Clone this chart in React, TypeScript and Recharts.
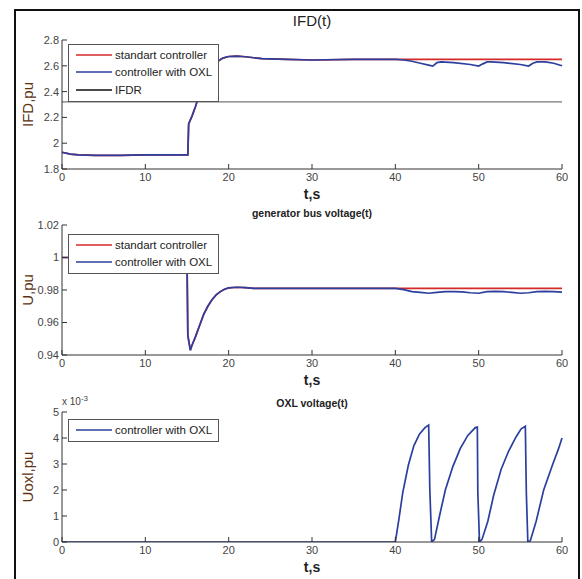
import { CartesianGrid, Legend, Line, LineChart, ReferenceLine, XAxis, YAxis } from "recharts";

const TIME_TICKS = [0, 10, 20, 30, 40, 50, 60];

// IFD(t)
const ifdTime = [
  0, 1, 2, 4, 7, 10, 15.1, 15.2, 15.6, 16, 16.3, 17, 18, 18.7, 19.3, 20, 21, 22, 24, 27, 30, 35, 40,
  41, 42, 43, 44, 44.5, 45, 45.5, 47, 49, 50, 50.5, 51, 51.5, 53, 55, 56, 56.5, 57, 58, 59, 60,
];
const ifdStandard = [
  1.93, 1.915, 1.91, 1.905, 1.905, 1.91, 1.91, 2.15, 2.21, 2.28, 2.34, 2.45, 2.57, 2.635, 2.66, 2.672, 2.675, 2.67, 2.655, 2.65, 2.645, 2.65, 2.65,
  2.65, 2.65, 2.65, 2.65, 2.65, 2.65, 2.65, 2.65, 2.65, 2.65, 2.65, 2.65, 2.65, 2.65, 2.65, 2.65, 2.65, 2.65, 2.65, 2.65, 2.65,
];
const ifdOxl = [
  1.93, 1.915, 1.91, 1.905, 1.905, 1.91, 1.91, 2.15, 2.21, 2.28, 2.34, 2.45, 2.57, 2.635, 2.66, 2.672, 2.675, 2.67, 2.655, 2.65, 2.645, 2.65, 2.65,
  2.645, 2.635, 2.62, 2.605, 2.598, 2.625, 2.63, 2.625, 2.61, 2.598, 2.615, 2.63, 2.63, 2.625, 2.61, 2.598, 2.62, 2.63, 2.63, 2.62, 2.6,
];
const IFDR_LEVEL = 2.32;
const ifdTicks = [1.8, 2, 2.2, 2.4, 2.6, 2.8];

// generator bus voltage(t)
const busTime = [
  0, 5, 10, 15, 15.1, 15.4, 15.6, 16, 16.5, 17, 17.5, 18, 18.5, 19, 19.5, 20, 21, 22, 23, 25, 30, 35, 40,
  41, 42, 43, 44, 45, 46, 47, 48, 49, 50, 51, 52, 53, 54, 55, 56, 57, 58, 59, 60,
];
const busStandard = [
  1, 1, 1, 1, 0.952, 0.943, 0.946, 0.951, 0.958, 0.965, 0.97, 0.974, 0.977, 0.979, 0.9805, 0.9813, 0.9817, 0.9815, 0.981, 0.981, 0.981, 0.981, 0.981,
  0.981, 0.981, 0.981, 0.981, 0.981, 0.981, 0.981, 0.981, 0.981, 0.981, 0.981, 0.981, 0.981, 0.981, 0.981, 0.981, 0.981, 0.981, 0.981, 0.981,
];
const busOxl = [
  1, 1, 1, 1, 0.952, 0.943, 0.946, 0.951, 0.958, 0.965, 0.97, 0.974, 0.977, 0.979, 0.9805, 0.9813, 0.9817, 0.9815, 0.981, 0.981, 0.981, 0.981, 0.981,
  0.9802, 0.979, 0.9785, 0.978, 0.9785, 0.979, 0.979, 0.9788, 0.9783, 0.978, 0.979, 0.9792, 0.979, 0.9785, 0.978, 0.9783, 0.979, 0.9792, 0.979, 0.9787,
];
const busTicks = [0.94, 0.96, 0.98, 1, 1.02];

// OXL voltage(t), in units of 1e-3
const oxlTime = [
  0, 40, 40.44, 40.89, 41.56, 42.22, 42.89, 43.56, 44.0, 44.14,
  44.36, 44.7, 45.3, 46.0, 46.9, 47.8, 48.7, 49.6, 49.84, 49.9,
  50.1, 50.4, 51.1, 51.8, 52.7, 53.6, 54.5, 55.1, 55.6, 55.72,
  55.9, 56.2, 56.9, 57.8, 58.9, 59.6, 60,
];
const oxlVoltage = [
  0, 0, 0.9, 1.9, 2.95, 3.7, 4.15, 4.4, 4.5, 2.0,
  0, 0.1, 1.0, 2.0, 2.9, 3.6, 4.1, 4.4, 4.42, 1.9,
  0, 0.1, 0.8, 1.8, 2.8, 3.5, 4.05, 4.35, 4.45, 1.9,
  0, 0.05, 0.8, 2.0, 3.0, 3.6, 4.0,
];
const oxlTicks = [0, 1, 2, 3, 4, 5];

const RED = "#d42a2a";
const BLUE = "#2b3f9e";
const FONT = "'Liberation Sans', Arial, sans-serif";
const LABEL_COLOR = "#5c3310";

const ifdData = ifdTime.map((t, i) => ({ t, standard: ifdStandard[i], oxl: ifdOxl[i] }));
const busData = busTime.map((t, i) => ({ t, standard: busStandard[i], oxl: busOxl[i] }));
const oxlData = oxlTime.map((t, i) => ({ t, oxl: oxlVoltage[i] }));

type LegendItem = { name: string; color: string };

function LegendBox({ items }: { items: LegendItem[] }) {
  return (
    <div
      style={{
        border: "1px solid #555",
        background: "#fff",
        padding: "1px 0 2px 0",
        fontFamily: FONT,
        fontSize: 11.5,
        color: "#222",
      }}
    >
      {items.map((item) => (
        <div key={item.name} style={{ display: "flex", alignItems: "center", height: 17.5 }}>
          <svg width={46} height={4} style={{ flex: "none" }}>
            <line x1={7} x2={43} y1={2} y2={2} stroke={item.color} strokeWidth={1.6} />
          </svg>
          <span>{item.name}</span>
        </div>
      ))}
    </div>
  );
}

const tickStyle = { fontSize: 11, fill: "#444", fontFamily: FONT };
const axisColor = "#333";

type PanelProps = {
  data: Record<string, number>[];
  yDomain: [number, number];
  yTicks: number[];
  yLabel: string;
  legend: LegendItem[];
  legendTop: number;
  series: { key: string; color: string }[];
  height: number;
  children?: React.ReactNode;
};

function Panel({ data, yDomain, yTicks, yLabel, legend, legendTop, series, height, children }: PanelProps) {
  return (
    <LineChart width={582} height={height} data={data} margin={{ top: 10, right: 20, left: 22, bottom: 3 }}>
      <CartesianGrid stroke="none" />
      <XAxis
        dataKey="t"
        type="number"
        domain={[0, 60]}
        ticks={TIME_TICKS}
        tickSize={-5}
        tickMargin={9}
        tick={tickStyle}
        stroke={axisColor}
        height={30}
        label={{
          value: "t,s",
          position: "insideBottom",
          offset: 0,
          style: { fontSize: 14, fontWeight: "bold", fill: "#222", fontFamily: FONT },
        }}
      />
      <XAxis
        xAxisId="top"
        orientation="top"
        type="number"
        domain={[0, 60]}
        ticks={TIME_TICKS}
        tickSize={-5}
        tick={false}
        stroke={axisColor}
        height={0}
      />
      <YAxis
        type="number"
        domain={yDomain}
        ticks={yTicks}
        tickSize={-5}
        tickMargin={8}
        tick={tickStyle}
        stroke={axisColor}
        width={40}
        interval={0}
        allowDataOverflow
        label={{
          value: yLabel,
          angle: -90,
          position: "center",
          dx: -14,
          style: { fontSize: 15, fill: LABEL_COLOR, fontFamily: FONT, textAnchor: "middle" },
        }}
      />
      <YAxis
        yAxisId="right"
        orientation="right"
        type="number"
        domain={yDomain}
        ticks={yTicks}
        tickSize={-5}
        tick={false}
        stroke={axisColor}
        width={0}
      />
      {children}
      {series.map((s) => (
        <Line
          key={s.key}
          dataKey={s.key}
          stroke={s.color}
          strokeWidth={1.7}
          dot={false}
          isAnimationActive={false}
          type="linear"
        />
      ))}
      <Legend
        layout="vertical"
        align="center"
        verticalAlign="middle"
        wrapperStyle={{ top: legendTop, left: 68, width: 151 }}
        content={() => <LegendBox items={legend} />}
      />
    </LineChart>
  );
}

const titleBase: React.CSSProperties = {
  position: "absolute",
  left: 62,
  width: 500,
  textAlign: "center",
  fontFamily: FONT,
  color: "#222",
};

export default function App() {
  return (
    <div
      style={{
        position: "absolute",
        left: 0,
        top: 0,
        width: 582,
        height: 579,
        overflow: "hidden",
        background: "#fff",
      }}
    >
      <div
        style={{
          position: "absolute",
          left: 14,
          top: 9,
          width: 566,
          height: 620,
          border: "2px solid #111",
          boxSizing: "border-box",
        }}
      />
      <div style={{ ...titleBase, top: 12, fontSize: 15 }}>IFD(t)</div>
      <div style={{ ...titleBase, top: 207, fontSize: 10.5, fontWeight: "bold" }}>generator bus voltage(t)</div>
      <div style={{ ...titleBase, top: 397, fontSize: 10.5, fontWeight: "bold" }}>OXL voltage(t)</div>
      <div style={{ position: "absolute", left: 62, top: 394, fontFamily: FONT, fontSize: 10, color: "#444" }}>
        x 10<sup style={{ fontSize: 8 }}>-3</sup>
      </div>

      <div style={{ position: "absolute", left: 0, top: 30 }}>
        <Panel
          data={ifdData}
          yDomain={[1.8, 2.8]}
          yTicks={ifdTicks}
          yLabel="IFD,pu"
          height={172}
          legendTop={14}
          legend={[
            { name: "standart controller", color: RED },
            { name: "controller with OXL", color: BLUE },
            { name: "IFDR", color: "#111" },
          ]}
          series={[
            { key: "standard", color: RED },
            { key: "oxl", color: BLUE },
          ]}
        >
          <ReferenceLine y={IFDR_LEVEL} stroke="#555" strokeWidth={1} />
        </Panel>
      </div>

      <div style={{ position: "absolute", left: 0, top: 215 }}>
        <Panel
          data={busData}
          yDomain={[0.94, 1.02]}
          yTicks={busTicks}
          yLabel="U,pu"
          height={173}
          legendTop={19}
          legend={[
            { name: "standart controller", color: RED },
            { name: "controller with OXL", color: BLUE },
          ]}
          series={[
            { key: "standard", color: RED },
            { key: "oxl", color: BLUE },
          ]}
        />
      </div>

      <div style={{ position: "absolute", left: 0, top: 402 }}>
        <Panel
          data={oxlData}
          yDomain={[0, 5]}
          yTicks={oxlTicks}
          yLabel="Uoxl,pu"
          height={173}
          legendTop={17}
          legend={[{ name: "controller with OXL", color: BLUE }]}
          series={[{ key: "oxl", color: BLUE }]}
        />
      </div>
    </div>
  );
}
